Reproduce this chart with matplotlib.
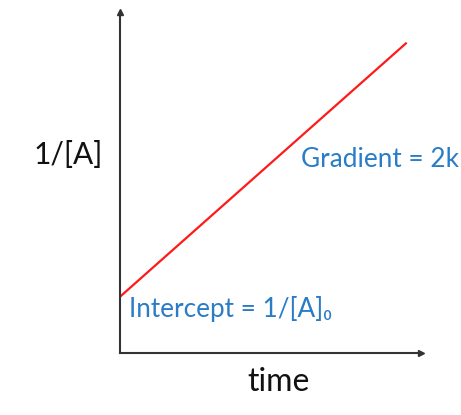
import matplotlib
matplotlib.use("Agg")
import matplotlib.pyplot as plt

# data
time = [0.0, 1.0]
inv_A = [1.65, 9.1]
x_label = "time"
y_label = "1/[A]"
gradient_label = "Gradient = 2k"
intercept_label = "Intercept = 1/[A]\u2080"

FONT = ["Lato", "DejaVu Sans"]
BLUE = "#2a7cc7"
AX = "#333333"

fig = plt.figure(figsize=(4.61, 4.15), dpi=100)
ax = fig.add_axes([120/461, 62/415, 301/461, 341/415])
ax.plot(time, inv_A, color="#ff1a1a", lw=1.6, solid_capstyle="butt")
ax.set_xlim(0, 1.05)
ax.set_ylim(0, 10)
for s in ["top", "right"]:
    ax.spines[s].set_visible(False)
for s in ["left", "bottom"]:
    ax.spines[s].set_color(AX)
    ax.spines[s].set_linewidth(1.5)
ax.set_xticks([])
ax.set_yticks([])
ax.plot(1, 0, ">", color=AX, ms=5, transform=ax.get_yaxis_transform(), clip_on=False)
ax.plot(0, 1, "^", color=AX, ms=5, transform=ax.get_xaxis_transform(), clip_on=False)

ax.text(-0.056, 0.581, y_label, transform=ax.transAxes, ha="right", va="center",
        fontsize=21.5, color="#111111", family=FONT)
ax.text(0.528, -0.111, x_label, transform=ax.transAxes, ha="center", va="baseline",
        fontsize=23, color="#111111", family=FONT)
ax.text(0.601, 0.545, gradient_label, transform=ax.transAxes, ha="left", va="baseline",
        fontsize=18.8, color=BLUE, family=FONT)
ax.text(0.030, 0.106, intercept_label, transform=ax.transAxes, ha="left", va="baseline",
        fontsize=18.8, color=BLUE, family=FONT)

fig.savefig("out.png", dpi=100)
